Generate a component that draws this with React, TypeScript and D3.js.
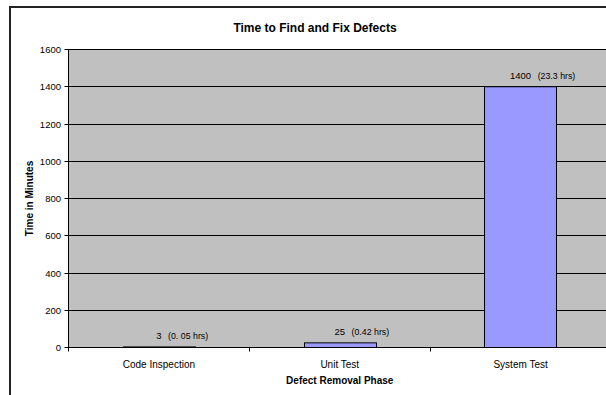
import React from "react";
import * as d3 from "d3";

const categories = ["Code Inspection", "Unit Test", "System Test"];
const minutes = [3, 25, 1400];
const hoursLabels = ["(0. 05 hrs)", "(0.42 hrs)", "(23.3 hrs)"];
const yTickValues = [0, 200, 400, 600, 800, 1000, 1200, 1400, 1600];

const W = 606;
const H = 395;
const FONT = "'Liberation Sans', Arial, Helvetica, sans-serif";

export default function App() {
  const left = 68.5;
  const right = 611;
  const top = 49.5;
  const bottom = 347.5;

  const x = d3
    .scaleBand<string>()
    .domain(categories)
    .range([left, right])
    .paddingInner(0.6)
    .paddingOuter(0.3);
  const y = d3.scaleLinear().domain([0, 1600]).range([bottom, top]);
  const step = x.step();
  const yr = (v: number) => Math.round(y(v) - 0.5) + 0.5;

  const numFont = 9.5;
  const digitW = 0.556 * numFont;

  return (
    <svg
      width={W}
      height={H}
      style={{ position: "absolute", left: 0, top: 0, background: "#fff" }}
      fontFamily={FONT}
    >
      {/* chart area border */}
      <rect x={10} y={7} width={620} height={400} fill="#fff" stroke="#222" strokeWidth={2} />

      {/* title */}
      <text x={315} y={32} textAnchor="middle" fontSize={12} fontWeight="bold" fill="#000">
        Time to Find and Fix Defects
      </text>

      {/* plot area */}
      <rect x={left} y={top} width={right - left} height={bottom - top} fill="#c0c0c0" />

      {/* gridlines */}
      {yTickValues.filter((v) => v > 0).map((v) => (
        <line key={"g" + v} x1={left} x2={right} y1={yr(v)} y2={yr(v)} stroke="#000" strokeWidth={1} />
      ))}

      {/* bars */}
      {categories.map((c, i) => {
        const bx = x(c)!;
        const by = y(minutes[i]);
        return (
          <rect
            key={"b" + c}
            x={Math.round(bx) + 0.5}
            y={by}
            width={Math.round(x.bandwidth())}
            height={bottom - by}
            fill="#9999ff"
            stroke="#000"
            strokeWidth={1}
          />
        );
      })}

      {/* data labels */}
      {categories.map((c, i) => {
        const cx = x(c)! + x.bandwidth() / 2;
        const by = y(minutes[i]);
        const numStr = String(minutes[i]);
        const nw = numStr.length * digitW;
        const base = by - 7.5;
        return (
          <g key={"l" + c}>
            <text x={cx} y={base} textAnchor="middle" fontSize={numFont} fill="#000">
              {numStr}
            </text>
            <text x={cx + nw / 2 + 6.5} y={base} textAnchor="start" fontSize={8.8} fill="#000">
              {hoursLabels[i]}
            </text>
          </g>
        );
      })}

      {/* y axis */}
      <line x1={left} x2={left} y1={top} y2={bottom} stroke="#000" strokeWidth={1} />
      {yTickValues.map((v) => (
        <g key={"t" + v}>
          <line x1={left - 4} x2={left + 2} y1={yr(v)} y2={yr(v)} stroke="#000" strokeWidth={1} />
          <text x={61} y={yr(v) + 3.5} textAnchor="end" fontSize={9.5} fill="#000">
            {v}
          </text>
        </g>
      ))}

      {/* x axis */}
      <line x1={left} x2={right} y1={bottom} y2={bottom} stroke="#000" strokeWidth={1} />
      {d3.range(categories.length + 1).map((k) => {
        const tx = Math.round(left + k * step - 0.5) + 0.5;
        return <line key={"xt" + k} x1={tx} x2={tx} y1={bottom} y2={bottom + 4} stroke="#000" strokeWidth={1} />;
      })}
      {categories.map((c) => (
        <text key={"c" + c} x={x(c)! + x.bandwidth() / 2} y={368} textAnchor="middle" fontSize={10} fill="#000">
          {c}
        </text>
      ))}

      {/* axis titles */}
      <text x={(left + right) / 2} y={384} textAnchor="middle" fontSize={10} fontWeight="bold" fill="#000">
        Defect Removal Phase
      </text>
      <text
        transform={`translate(33, ${(top + bottom) / 2}) rotate(-90)`}
        textAnchor="middle"
        fontSize={10}
        fontWeight="bold"
        fill="#000"
      >
        Time in Minutes
      </text>
    </svg>
  );
}
